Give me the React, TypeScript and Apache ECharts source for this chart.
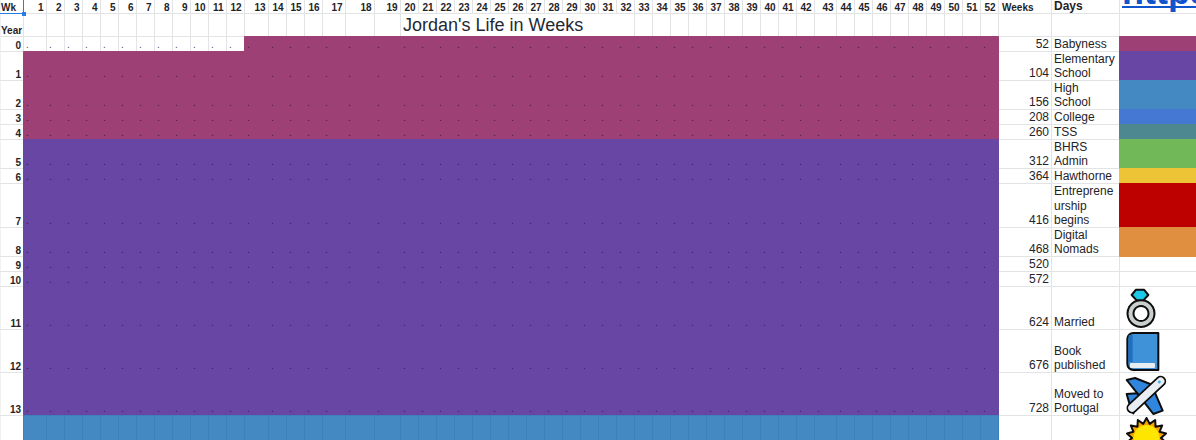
import React, { useEffect, useRef } from "react";
import * as echarts from "echarts";

const weekLabels = ["1","2","3","4","5","6","7","8","9","10","11","12","13","14","15","16","17","18","19","20","21","22","23","24","25","26","27","28","29","30","31","32","33","34","35","36","37","38","39","40","41","42","43","44","45","46","47","48","49","50","51","52"];
const yearLabels = ["0","1","2","3","4","5","6","7","8","9","10","11","12","13"];
const weeksTotals = [52,104,156,208,260,312,364,416,468,520,572,624,676,728];
const stageNames = ["Babyness","Elementary\nSchool","High\nSchool","College","TSS","BHRS\nAdmin","Hawthorne","Entreprene\nurship\nbegins","Digital\nNomads"];
const stageColors = ["#9c4075","#6846a4","#4589c2","#4478d2","#4d8890","#70b858","#edc436","#bd0000","#e08f40"];
const yearStage = [0,0,0,0,0,1,1,1,1,1,1,1,1,1,2];
const blankWeeksInYearZero = 12;
const eventNames = ["Married","Book\npublished","Moved to\nPortugal","Moved to"];
const eventYears = [11,12,13,14];

// Sheet layout: column and row edges of the spreadsheet grid
const colEdges = [0,23.5,46.5,64.5,82.5,100.5,118.5,136.5,154.5,172.5,190.5,208.5,226.5,244.5,268.5,286.5,304.5,322.5,345.5,374.5,400.5,418.5,436.5,454.5,472.5,490.5,508.5,526.5,544.5,562.5,580.5,598.5,616.5,634.5,652.5,670.5,688.5,706.5,724.5,742.5,760.5,778.5,796.5,814.5,836.5,854.5,872.5,890.5,908.5,926.5,944.5,962.5,980.5,998.5,1051.5,1119.5,1200];
const rowEdges = [36.5,51.5,80.5,109.5,124.5,139.5,168.5,183.5,227.5,256.5,271.5,286.5,329.5,372.5,415.5,458.5];
const headerEdges = [-1,13.5,36.5];
const GRID = "#e2e3e4";
const INK = "#1f2328";

type Cell = { x0: number; x1: number; y0: number; y1: number; fill: string; stroke: string };
const cells: Cell[] = [];
for (let c = 0; c < colEdges.length - 1; c++) {
  [...headerEdges.slice(0, 2).map((_, i) => [headerEdges[i], headerEdges[i + 1]]), ...rowEdges.slice(0, -1).map((e, i) => [e, rowEdges[i + 1]])].forEach(([y0, y1]) => {
    cells.push({ x0: colEdges[c], x1: colEdges[c + 1], y0, y1, fill: "#ffffff", stroke: GRID });
  });
}
// merged title cell
cells.push({ x0: 400.5, x1: 634.5, y0: 13.5, y1: 36.5, fill: "#ffffff", stroke: GRID });
const stageCells: Cell[] = [];
yearStage.forEach((stage, y) => {
  weekLabels.forEach((_, w) => {
    if (y === 0 && w < blankWeeksInYearZero) return;
    const fill = stageColors[stage];
    stageCells.push({ x0: colEdges[w + 1], x1: colEdges[w + 2], y0: rowEdges[y], y1: rowEdges[y + 1], fill, stroke: stage === 2 ? "#3f80b8" : fill });
  });
});
const swatchCells: Cell[] = stageColors.map((fill, i) => ({
  x0: colEdges[colEdges.length - 2], x1: colEdges[colEdges.length - 1], y0: rowEdges[i], y1: rowEdges[i + 1], fill, stroke: fill,
}));

type Txt = { text: string; x: number; y: number; align: string; size: number; bold?: boolean; color?: string };
const texts: Txt[] = [];
weekLabels.forEach((t, w) => texts.push({ text: t, x: colEdges[w + 2] - 3, y: 12, align: "right", size: 10, bold: true }));
texts.push({ text: "Wk", x: 1, y: 12, align: "left", size: 10, bold: true });
texts.push({ text: "Weeks", x: 1002, y: 12, align: "left", size: 10, bold: true });
texts.push({ text: "Days", x: 1054, y: 11, align: "left", size: 12, bold: true });
texts.push({ text: "Year", x: 1, y: 35, align: "left", size: 10, bold: true });
yearLabels.forEach((t, y) => texts.push({ text: t, x: 21, y: rowEdges[y + 1] - 2, align: "right", size: 10, bold: true }));
weeksTotals.forEach((v, y) => texts.push({ text: String(v), x: 1049, y: rowEdges[y + 1] - 3, align: "right", size: 12 }));
const pushLines = (name: string, row: number) => {
  const lines = name.split("\n");
  lines.forEach((line, i) => texts.push({ text: line, x: 1054, y: rowEdges[row + 1] - 2.5 - (lines.length - 1 - i) * 14.5, align: "left", size: 12 }));
};
stageNames.forEach((n, i) => pushLines(n, i));
eventNames.forEach((n, i) => pushLines(n, eventYears[i]));
const dots: Txt[] = [];
yearLabels.forEach((_, y) => {
  weekLabels.forEach((_, w) => {
    const blank = y === 0 && w < blankWeeksInYearZero;
    dots.push({ text: ".", x: colEdges[w + 1] + 2.5, y: rowEdges[y + 1] - 3, align: "left", size: 10, color: blank ? "#555555" : "rgba(30,15,30,0.75)" });
  });
});

const rectSeries = (name: string, list: Cell[]) => ({
  type: "custom",
  name,
  silent: true,
  clip: false,
  data: list.map((c) => [c.x0, c.y0, c.x1, c.y1]),
  encode: { x: [0, 2], y: [1, 3] },
  renderItem: (params: any, api: any) => {
    const c = list[params.dataIndex];
    const a = api.coord([api.value(0), api.value(1)]);
    const b = api.coord([api.value(2), api.value(3)]);
    return { type: "rect", shape: { x: a[0], y: a[1], width: b[0] - a[0], height: b[1] - a[1] }, style: { fill: c.fill, stroke: c.stroke, lineWidth: 1 } };
  },
});
const textSeries = (name: string, list: Txt[]) => ({
  type: "custom",
  name,
  silent: true,
  clip: false,
  data: list.map((t) => [t.x, t.y]),
  encode: { x: 0, y: 1 },
  renderItem: (params: any, api: any) => {
    const t = list[params.dataIndex];
    const p = api.coord([api.value(0), api.value(1)]);
    return {
      type: "text",
      x: p[0],
      y: p[1] - t.size * 0.905,
      style: {
        text: t.text, align: t.align, verticalAlign: "top", fill: t.color || INK,
        font: `${t.bold ? "bold " : ""}${t.size}px "Liberation Sans", Arial, sans-serif`,
        lineHeight: t.size,
      },
    };
  },
});

const K = "#0d0d0d";
const ol = { stroke: K, lineWidth: 2, lineJoin: "round" };
const zx = (z: number) => 1120 + z / 3;
const zyA = (z: number) => 285 + z / 3;
const zyB = (z: number) => 370 + z / 3;
const ptsA = (p: number[][]) => p.map(([x, y]) => [zx(x), zyA(y)]);
const ptsB = (p: number[][]) => p.map(([x, y]) => [zx(x), zyB(y)]);
const sunPoints = (cx: number, cy: number, R: number, r: number, n: number) => {
  const out: number[][] = [];
  for (let i = 0; i < n * 2; i++) {
    const a = (Math.PI * i) / n - Math.PI / 2;
    const d = i % 2 === 0 ? R : r;
    out.push([cx + d * Math.cos(a), cy + d * Math.sin(a)]);
  }
  return out;
};
const icons: any[] = [
  // ring
  { type: "circle", shape: { cx: 1141, cy: 313.5, r: 14.5 }, style: { fill: K } },
  { type: "circle", shape: { cx: 1141, cy: 313.5, r: 12.5 }, style: { fill: "#c8cfcd" } },
  { type: "circle", shape: { cx: 1141, cy: 313.5, r: 8.5 }, style: { fill: K } },
  { type: "circle", shape: { cx: 1141, cy: 313.5, r: 6.5 }, style: { fill: "#ffffff" } },
  { type: "polygon", shape: { points: ptsA([[35,30],[48,14],[72,14],[85,30],[70,46],[50,46]]) }, style: { fill: "#1cc8e8", ...ol } },
  // book
  { type: "rect", shape: { x: zx(22), y: zyA(144), width: 31, height: 37, r: [6, 0, 0, 6] }, style: { fill: "#3f92d8", ...ol } },
  { type: "rect", shape: { x: zx(26), y: zyA(150), width: 4, height: 27 }, style: { fill: "#1f6fc2" } },
  { type: "rect", shape: { x: zx(30), y: zyA(234), width: 25, height: 5, r: 1 }, style: { fill: "#e6eef2" } },
  // plane
  { type: "polygon", shape: { points: ptsB([[20,30],[45,24],[98,45],[60,80]]) }, style: { fill: "#2f86dc", ...ol } },
  { type: "polygon", shape: { points: ptsB([[98,52],[128,122],[100,132],[66,88]]) }, style: { fill: "#2f86dc", ...ol } },
  { type: "polygon", shape: { points: ptsB([[20,72],[52,70],[62,90],[40,130],[28,100]]) }, style: { fill: "#2f86dc", ...ol } },
  { type: "line", shape: { x1: zx(36), y1: zyB(114), x2: zx(122), y2: zyB(34) }, style: { stroke: K, lineWidth: 11, lineCap: "round" } },
  { type: "line", shape: { x1: zx(36), y1: zyB(114), x2: zx(122), y2: zyB(34) }, style: { stroke: "#e8eef2", lineWidth: 7.5, lineCap: "round" } },
  { type: "circle", shape: { cx: zx(118), cy: zyB(36), r: 1.5 }, style: { fill: "#4ab0e8" } },
  // sun
  { type: "polygon", shape: { points: sunPoints(1146.5, 438, 20, 14.5, 14) }, style: { fill: "#f7a600", ...ol } },
  { type: "circle", shape: { cx: 1146.5, cy: 438, r: 13 }, style: { fill: "#ffe600" } },
];

export default function App() {
  const ref = useRef<HTMLDivElement>(null);
  useEffect(() => {
    document.body.style.margin = "0";
    document.body.style.overflow = "hidden";
    const chart = echarts.init(ref.current!, null, { renderer: "svg", width: 1196, height: 440 });
    chart.setOption({
      animation: false,
      backgroundColor: "#ffffff",
      title: {
        text: "Jordan's Life in Weeks",
        left: 403,
        top: 16,
        padding: 0,
        textStyle: { fontFamily: '"Liberation Sans", Arial, sans-serif', fontSize: 18, fontWeight: "normal", color: "#1f2933" },
      },
      grid: { left: 0, right: 0, top: 0, bottom: 0 },
      xAxis: { type: "value", min: 0, max: 1196, show: false },
      yAxis: { type: "value", min: 0, max: 440, inverse: true, show: false },
      tooltip: { show: false },
      series: [
        rectSeries("grid", cells),
        rectSeries("weeks", stageCells),
        rectSeries("swatches", swatchCells),
        textSeries("dots", dots),
        textSeries("labels", texts),
      ],
      graphic: {
        elements: [
          { type: "line", shape: { x1: 23.5, y1: 0, x2: 23.5, y2: 13 }, style: { stroke: "#2a7de1", lineWidth: 1 }, z: 20 },
          { type: "line", shape: { x1: 0, y1: 13.5, x2: 23, y2: 13.5 }, style: { stroke: "#2a7de1", lineWidth: 1 }, z: 20 },
          { type: "rect", shape: { x: 22, y: 12, width: 4, height: 4 }, style: { fill: "#2a7de1" }, z: 21 },
          {
            type: "text", x: 1122, y: -26.6, z: 20,
            style: { text: "https", fill: "#1155cc", font: 'bold 36px "Liberation Sans", Arial, sans-serif', verticalAlign: "top", align: "left", lineHeight: 36 },
          },
          { type: "line", shape: { x1: 1122, y1: 7, x2: 1196, y2: 7 }, style: { stroke: "#1155cc", lineWidth: 2 }, z: 20 },
          ...icons.map((e) => ({ ...e, z: 15 })),
        ],
      },
    });
    return () => chart.dispose();
  }, []);
  return <div ref={ref} style={{ width: 1196, height: 440 }} />;
}
